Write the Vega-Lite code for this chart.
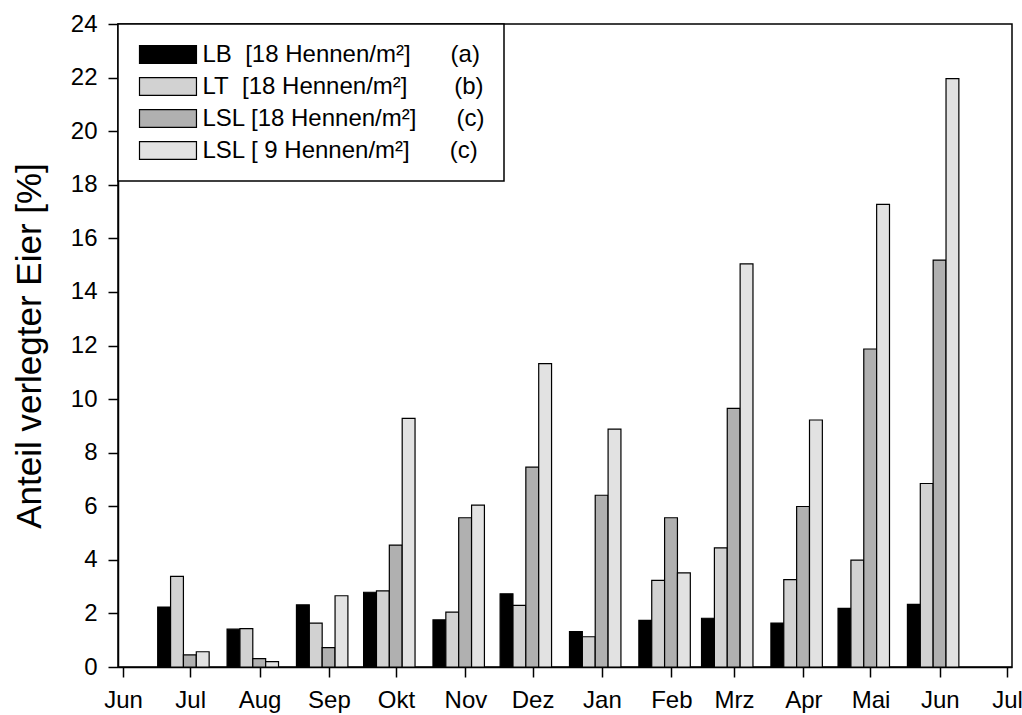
{
  "$schema": "https://vega.github.io/schema/vega-lite/v6.json",
  "autosize": {"type": "none"},
  "padding": {"left": 118, "top": 24, "right": 10, "bottom": 48},
  "width": 894,
  "height": 643,
  "config": {
    "font": "Liberation Sans",
    "view": {"stroke": "black", "strokeWidth": 1.5},
    "axis": {
      "domainColor": "black", "domainWidth": 1.5,
      "tickColor": "black", "tickWidth": 1.5, "tickSize": 10,
      "labelColor": "black", "labelFont": "Liberation Sans", "labelFontSize": 24,
      "grid": false, "titleColor": "black", "titleFont": "Liberation Sans"
    }
  },
  "data": {
    "values": [
      {"datum": "2006-06-28", "gruppe": "LB", "anteil": 2.24},
      {"datum": "2006-06-28", "gruppe": "LT", "anteil": 3.38},
      {"datum": "2006-06-28", "gruppe": "LSL18", "anteil": 0.45},
      {"datum": "2006-06-28", "gruppe": "LSL9", "anteil": 0.57},
      {"datum": "2006-07-29", "gruppe": "LB", "anteil": 1.41},
      {"datum": "2006-07-29", "gruppe": "LT", "anteil": 1.43},
      {"datum": "2006-07-29", "gruppe": "LSL18", "anteil": 0.31},
      {"datum": "2006-07-29", "gruppe": "LSL9", "anteil": 0.20},
      {"datum": "2006-08-29", "gruppe": "LB", "anteil": 2.32},
      {"datum": "2006-08-29", "gruppe": "LT", "anteil": 1.64},
      {"datum": "2006-08-29", "gruppe": "LSL18", "anteil": 0.72},
      {"datum": "2006-08-29", "gruppe": "LSL9", "anteil": 2.66},
      {"datum": "2006-09-28", "gruppe": "LB", "anteil": 2.79},
      {"datum": "2006-09-28", "gruppe": "LT", "anteil": 2.84},
      {"datum": "2006-09-28", "gruppe": "LSL18", "anteil": 4.55},
      {"datum": "2006-09-28", "gruppe": "LSL9", "anteil": 9.28},
      {"datum": "2006-10-29", "gruppe": "LB", "anteil": 1.76},
      {"datum": "2006-10-29", "gruppe": "LT", "anteil": 2.05},
      {"datum": "2006-10-29", "gruppe": "LSL18", "anteil": 5.57},
      {"datum": "2006-10-29", "gruppe": "LSL9", "anteil": 6.04},
      {"datum": "2006-11-28", "gruppe": "LB", "anteil": 2.73},
      {"datum": "2006-11-28", "gruppe": "LT", "anteil": 2.30},
      {"datum": "2006-11-28", "gruppe": "LSL18", "anteil": 7.46},
      {"datum": "2006-11-28", "gruppe": "LSL9", "anteil": 11.32},
      {"datum": "2006-12-29", "gruppe": "LB", "anteil": 1.32},
      {"datum": "2006-12-29", "gruppe": "LT", "anteil": 1.13},
      {"datum": "2006-12-29", "gruppe": "LSL18", "anteil": 6.41},
      {"datum": "2006-12-29", "gruppe": "LSL9", "anteil": 8.88},
      {"datum": "2007-01-29", "gruppe": "LB", "anteil": 1.74},
      {"datum": "2007-01-29", "gruppe": "LT", "anteil": 3.23},
      {"datum": "2007-01-29", "gruppe": "LSL18", "anteil": 5.57},
      {"datum": "2007-01-29", "gruppe": "LSL9", "anteil": 3.51},
      {"datum": "2007-02-26", "gruppe": "LB", "anteil": 1.82},
      {"datum": "2007-02-26", "gruppe": "LT", "anteil": 4.45},
      {"datum": "2007-02-26", "gruppe": "LSL18", "anteil": 9.65},
      {"datum": "2007-02-26", "gruppe": "LSL9", "anteil": 15.05},
      {"datum": "2007-03-29", "gruppe": "LB", "anteil": 1.64},
      {"datum": "2007-03-29", "gruppe": "LT", "anteil": 3.26},
      {"datum": "2007-03-29", "gruppe": "LSL18", "anteil": 5.99},
      {"datum": "2007-03-29", "gruppe": "LSL9", "anteil": 9.22},
      {"datum": "2007-04-28", "gruppe": "LB", "anteil": 2.19},
      {"datum": "2007-04-28", "gruppe": "LT", "anteil": 3.99},
      {"datum": "2007-04-28", "gruppe": "LSL18", "anteil": 11.87},
      {"datum": "2007-04-28", "gruppe": "LSL9", "anteil": 17.27},
      {"datum": "2007-05-29", "gruppe": "LB", "anteil": 2.34},
      {"datum": "2007-05-29", "gruppe": "LT", "anteil": 6.85},
      {"datum": "2007-05-29", "gruppe": "LSL18", "anteil": 15.19},
      {"datum": "2007-05-29", "gruppe": "LSL9", "anteil": 21.96}
    ]
  },
  "encoding": {
    "x": {
      "field": "datum", "type": "temporal",
      "scale": {
        "type": "utc",
        "domain": [
          {"year": 2006, "month": 6, "date": 1, "utc": true},
          {"year": 2007, "month": 7, "date": 1, "utc": true}
        ]
      },
      "axis": {
        "title": null,
        "values": [
          {"year": 2006, "month": 6, "date": 1, "utc": true},
          {"year": 2006, "month": 7, "date": 1, "utc": true},
          {"year": 2006, "month": 8, "date": 1, "utc": true},
          {"year": 2006, "month": 9, "date": 1, "utc": true},
          {"year": 2006, "month": 10, "date": 1, "utc": true},
          {"year": 2006, "month": 11, "date": 1, "utc": true},
          {"year": 2006, "month": 12, "date": 1, "utc": true},
          {"year": 2007, "month": 1, "date": 1, "utc": true},
          {"year": 2007, "month": 2, "date": 1, "utc": true},
          {"year": 2007, "month": 3, "date": 1, "utc": true},
          {"year": 2007, "month": 4, "date": 1, "utc": true},
          {"year": 2007, "month": 5, "date": 1, "utc": true},
          {"year": 2007, "month": 6, "date": 1, "utc": true},
          {"year": 2007, "month": 7, "date": 1, "utc": true}
        ],
        "labelExpr": "['Jan','Feb','Mrz','Apr','Mai','Jun','Jul','Aug','Sep','Okt','Nov','Dez'][utcmonth(datum.value)]",
        "labelFlush": false,
        "labelOverlap": false,
        "labelPadding": 11
      }
    },
    "y": {
      "field": "anteil", "type": "quantitative",
      "scale": {"domain": [0, 24], "nice": false},
      "axis": {
        "values": [0, 2, 4, 6, 8, 10, 12, 14, 16, 18, 20, 22, 24],
        "title": "Anteil verlegter Eier [%]",
        "titleFontSize": 35,
        "titleFontWeight": "normal",
        "titlePadding": 23,
        "labelPadding": 11
      }
    },
    "color": {
      "field": "gruppe", "type": "nominal",
      "scale": {
        "domain": ["LB", "LT", "LSL18", "LSL9"],
        "range": ["#000000", "#d2d2d2", "#b0b0b0", "#e2e2e2"]
      },
      "legend": {
        "title": null,
        "orient": "none",
        "legendX": 0,
        "legendY": 0,
        "direction": "vertical",
        "strokeColor": "black",
        "fillColor": "white",
        "padding": 18.5,
        "symbolType": "M-1,-0.98H5.33V0.98H-1Z",
        "symbolSize": 324,
        "symbolStrokeColor": "black",
        "symbolStrokeWidth": 1.2,
        "symbolOpacity": 1,
        "labelFontSize": 24,
        "labelColor": "black",
        "labelOffset": 42,
        "rowPadding": 8,
        "labelLimit": 400,
        "labelExpr": "datum.value === 'LB' ? 'LB\u00a0\u00a0[18 Hennen/m²]\u00a0\u00a0\u00a0\u00a0\u00a0\u00a0(a)' : datum.value === 'LT' ? 'LT\u00a0\u00a0[18 Hennen/m²]\u00a0\u00a0\u00a0\u00a0\u00a0\u00a0\u00a0(b)' : datum.value === 'LSL18' ? 'LSL [18 Hennen/m²]\u00a0\u00a0\u00a0\u00a0\u00a0\u00a0(c)' : 'LSL [ 9 Hennen/m²]\u00a0\u00a0\u00a0\u00a0\u00a0\u00a0(c)'",
        "encode": {
          "legend": {"update": {"strokeWidth": {"value": 1.5}}}
        }
      }
    }
  },
  "layer": [
    {
      "transform": [{"filter": "datum.gruppe === 'LB'"}],
      "mark": {"type": "bar", "xOffset": -19.3, "width": 12.85, "stroke": "black", "strokeWidth": 1.2, "opacity": 1}
    },
    {
      "transform": [{"filter": "datum.gruppe === 'LT'"}],
      "mark": {"type": "bar", "xOffset": -6.43, "width": 12.85, "stroke": "black", "strokeWidth": 1.2, "opacity": 1}
    },
    {
      "transform": [{"filter": "datum.gruppe === 'LSL18'"}],
      "mark": {"type": "bar", "xOffset": 6.43, "width": 12.85, "stroke": "black", "strokeWidth": 1.2, "opacity": 1}
    },
    {
      "transform": [{"filter": "datum.gruppe === 'LSL9'"}],
      "mark": {"type": "bar", "xOffset": 19.3, "width": 12.85, "stroke": "black", "strokeWidth": 1.2, "opacity": 1}
    }
  ]
}
